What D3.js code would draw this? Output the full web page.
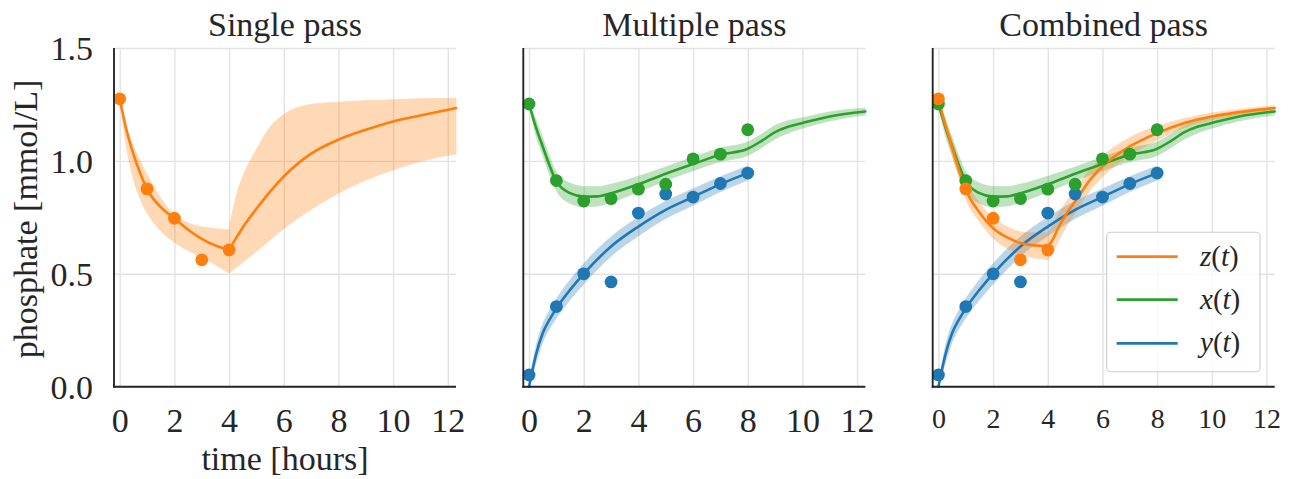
<!DOCTYPE html>
<html><head><meta charset="utf-8">
<script src="https://cdn.jsdelivr.net/npm/d3@7"></script>
<style>
html,body{margin:0;padding:0;background:#fff;}
svg{display:block;font-family:"Liberation Serif","Times New Roman",serif;}
</style></head><body>
<svg id="chart" width="1291" height="479"></svg>
<script>
// ---------- data ----------
const xTicks = [0, 2, 4, 6, 8, 10, 12];
const yTicks = [0, 0.5, 1.0, 1.5];
const panelTitles = ["Single pass", "Multiple pass", "Combined pass"];
const legendLabels = [["z","t"], ["x","t"], ["y","t"]];

// observations
const obsTime  = [0, 1, 2, 3, 4, 5, 6, 7, 8];
const zObsTime = [0, 1, 2, 3, 4];
const zObs = [1.275, 0.876, 0.746, 0.562, 0.606];
const xObs = [1.252, 0.913, 0.822, 0.833, 0.875, 0.897, 1.009, 1.030, 1.138];
const yObs = [0.052, 0.355, 0.500, 0.464, 0.769, 0.853, 0.840, 0.900, 0.946];

// single pass z(t): phase 1 (0-4 h) and phase 2 (4-12.3 h)
const singleT1  = [0, 0.25, 0.5, 0.75, 1, 1.5, 2, 2.5, 3, 3.5, 4];
const singleZ1  = [1.275, 1.135, 1.03, 0.945, 0.875, 0.795, 0.745, 0.695, 0.655, 0.625, 0.606];
const singleLo1 = [1.275, 1.06, 0.92, 0.83, 0.77, 0.69, 0.64, 0.603, 0.573, 0.54, 0.503];
const singleHi1 = [1.275, 1.15, 1.065, 1.0, 0.94, 0.835, 0.762, 0.725, 0.708, 0.70, 0.695];
const singleT2  = [4, 4.25, 4.5, 5, 5.5, 6, 7, 8, 9, 10, 11, 12.3];
const singleZ2  = [0.606, 0.657, 0.705, 0.788, 0.864, 0.931, 1.032, 1.094, 1.138, 1.175, 1.201, 1.234];
const singleLo2 = [0.503, 0.527, 0.55, 0.60, 0.65, 0.70, 0.785, 0.857, 0.915, 0.96, 0.998, 1.031];
const singleHi2 = [0.695, 0.84, 0.93, 1.05, 1.15, 1.205, 1.25, 1.26, 1.267, 1.271, 1.275, 1.278];

// multiple pass x(t)
const multiXT  = [0, 0.25, 0.5, 0.75, 1, 1.5, 2, 2.5, 3, 4, 5, 6, 7, 8, 8.5, 9, 9.5, 10, 11, 12.3];
const multiX   = [1.252, 1.15, 1.064, 0.98, 0.909, 0.857, 0.842, 0.843, 0.857, 0.897, 0.943, 0.986, 1.027, 1.054, 1.088, 1.127, 1.152, 1.168, 1.197, 1.219];
const multiXLo = [1.252, 1.115, 1.027, 0.94, 0.869, 0.812, 0.797, 0.80, 0.817, 0.862, 0.913, 0.956, 0.997, 1.024, 1.058, 1.097, 1.125, 1.145, 1.177, 1.204];
const multiXHi = [1.252, 1.185, 1.101, 1.02, 0.949, 0.902, 0.887, 0.886, 0.897, 0.932, 0.973, 1.016, 1.057, 1.084, 1.118, 1.157, 1.179, 1.191, 1.217, 1.234];

// multiple pass y(t)
const multiYT  = [0, 0.25, 0.5, 0.75, 1, 1.5, 2, 3, 4, 5, 6, 7, 8];
const multiY   = [0.0, 0.14, 0.237, 0.297, 0.347, 0.429, 0.50, 0.621, 0.709, 0.783, 0.84, 0.897, 0.946];
const multiYLo = [0.0, 0.105, 0.198, 0.257, 0.305, 0.385, 0.455, 0.578, 0.668, 0.745, 0.804, 0.864, 0.915];
const multiYHi = [0.0, 0.175, 0.276, 0.337, 0.389, 0.473, 0.545, 0.664, 0.75, 0.821, 0.876, 0.93, 0.977];

// combined pass z(t)
const combT1  = [0, 0.25, 0.5, 0.75, 1, 1.5, 2, 2.5, 3, 3.5, 4];
const combZ1  = [1.275, 1.16, 1.06, 0.96, 0.872, 0.772, 0.702, 0.662, 0.636, 0.626, 0.622];
const combLo1 = [1.275, 1.14, 1.025, 0.925, 0.832, 0.73, 0.657, 0.614, 0.586, 0.571, 0.562];
const combHi1 = [1.275, 1.18, 1.095, 0.995, 0.912, 0.814, 0.747, 0.71, 0.686, 0.681, 0.682];
const combT2  = [4, 4.15, 4.35, 4.7, 5, 5.5, 6, 7, 8, 9, 10, 11, 12.3];
const combZ2  = [0.622, 0.645, 0.695, 0.769, 0.82, 0.909, 0.975, 1.064, 1.123, 1.168, 1.197, 1.216, 1.234];
const combLo2 = [0.562, 0.585, 0.635, 0.714, 0.77, 0.862, 0.93, 1.024, 1.093, 1.148, 1.182, 1.204, 1.224];
const combHi2 = [0.682, 0.705, 0.755, 0.824, 0.87, 0.956, 1.02, 1.104, 1.153, 1.188, 1.212, 1.228, 1.244];

// ---------- styling / layout ----------
const C = {z: "#ff7f0e", x: "#2ca02c", y: "#1f77b4"};
const TEXT = "#262626";
const panelLeft = [114, 523.3, 932.7];
const PW = 342, YB = 386.7, YT = 48;
const xDomain = [-0.21, 12.3];

const zip = (t, v) => t.map((d, i) => [d, v[i]]);
const zip3 = (t, lo, hi) => t.map((d, i) => [d, lo[i], hi[i]]);

const panels = [
  {
    bands: [{c: C.z, segs: [zip3(singleT1, singleLo1, singleHi1), zip3(singleT2, singleLo2, singleHi2)]}],
    lines: [{c: C.z, segs: [zip(singleT1, singleZ1), zip(singleT2, singleZ2)]}],
    points: [{c: C.z, pts: zip(zObsTime, zObs)}],
    tickSize: 34, tickBase: 432
  },
  {
    bands: [{c: C.y, segs: [zip3(multiYT, multiYLo, multiYHi)]}, {c: C.x, segs: [zip3(multiXT, multiXLo, multiXHi)]}],
    lines: [{c: C.y, segs: [zip(multiYT, multiY)]}, {c: C.x, segs: [zip(multiXT, multiX)]}],
    points: [{c: C.y, pts: zip(obsTime, yObs)}, {c: C.x, pts: zip(obsTime, xObs)}],
    tickSize: 34, tickBase: 432
  },
  {
    bands: [{c: C.y, segs: [zip3(multiYT, multiYLo, multiYHi)]}, {c: C.x, segs: [zip3(multiXT, multiXLo, multiXHi)]},
            {c: C.z, segs: [zip3(combT1, combLo1, combHi1), zip3(combT2, combLo2, combHi2)]}],
    lines: [{c: C.y, segs: [zip(multiYT, multiY)]}, {c: C.x, segs: [zip(multiXT, multiX)]},
            {c: C.z, segs: [zip(combT1, combZ1), zip(combT2, combZ2)]}],
    points: [{c: C.y, pts: zip(obsTime, yObs)}, {c: C.x, pts: zip(obsTime, xObs)}, {c: C.z, pts: zip(zObsTime, zObs)}],
    tickSize: 28, tickBase: 428
  }
];

const svg = d3.select("#chart");
svg.append("rect").attr("width", 1291).attr("height", 479).attr("fill", "#fff");

panels.forEach((p, i) => {
  const L = panelLeft[i];
  const x = d3.scaleLinear().domain(xDomain).range([L, L + PW]);
  const y = d3.scaleLinear().domain([0, 1.5]).range([YB, YT]);
  const g = svg.append("g");

  // grid
  const gx = g.append("g").attr("transform", `translate(0,${YB})`)
    .call(d3.axisBottom(x).tickValues(xTicks).tickSize(-(YB - YT)).tickFormat(""));
  gx.select(".domain").remove();
  gx.selectAll("line").attr("stroke", "#e3e3e3").attr("stroke-width", 1.4);
  const gy = g.append("g").attr("transform", `translate(${L},0)`)
    .call(d3.axisLeft(y).tickValues(yTicks).tickSize(-PW).tickFormat(""));
  gy.select(".domain").remove();
  gy.selectAll("line").attr("stroke", "#e3e3e3").attr("stroke-width", 1.4);

  // bands
  const area = d3.area().x(d => x(d[0])).y0(d => y(d[1])).y1(d => y(d[2])).curve(d3.curveMonotoneX);
  p.bands.forEach(b => {
    const bg = g.append("g").attr("opacity", 0.3);
    b.segs.forEach(s => bg.append("path").attr("d", area(s)).attr("fill", b.c).attr("stroke", b.c).attr("stroke-width", 0.8));
  });

  // fitted lines
  const line = d3.line().x(d => x(d[0])).y(d => y(d[1])).curve(d3.curveMonotoneX);
  p.lines.forEach(l => {
    l.segs.forEach(s => g.append("path").attr("d", line(s)).attr("fill", "none")
      .attr("stroke", l.c).attr("stroke-width", 2.6).attr("stroke-linejoin", "round").attr("stroke-linecap", "round"));
  });

  // observations
  p.points.forEach(pt => {
    g.append("g").selectAll("circle").data(pt.pts).join("circle")
      .attr("cx", d => x(d[0])).attr("cy", d => y(d[1])).attr("r", 6.4).attr("fill", pt.c);
  });

  // spines
  g.append("line").attr("x1", L).attr("x2", L).attr("y1", YT).attr("y2", YB + 1)
    .attr("stroke", TEXT).attr("stroke-width", 1.9);
  g.append("line").attr("x1", L - 1).attr("x2", L + PW).attr("y1", YB).attr("y2", YB)
    .attr("stroke", TEXT).attr("stroke-width", 1.9);

  // x tick labels
  const tx = g.append("g").attr("transform", `translate(0,${YB})`)
    .call(d3.axisBottom(x).tickValues(xTicks).tickSize(0).tickFormat(d3.format("d")));
  tx.select(".domain").remove();
  tx.attr("font-family", null).attr("font-size", null);
  tx.selectAll("text").attr("y", p.tickBase - YB).attr("dy", 0)
    .attr("font-size", p.tickSize).attr("fill", TEXT);

  // y tick labels (first panel only)
  if (i === 0) {
    const ty = g.append("g").attr("transform", `translate(${L},0)`)
      .call(d3.axisLeft(y).tickValues(yTicks).tickSize(0).tickPadding(21).tickFormat(d3.format(".1f")));
    ty.select(".domain").remove();
    ty.attr("font-family", null).attr("font-size", null);
    ty.selectAll("text").attr("dy", "0.34em").attr("font-size", 34).attr("fill", TEXT);
  }

  // title
  g.append("text").attr("x", L + PW / 2).attr("y", 36).attr("text-anchor", "middle")
    .attr("font-size", 34).attr("fill", TEXT).text(panelTitles[i]);
});

// axis labels
svg.append("text").attr("x", 285).attr("y", 470).attr("text-anchor", "middle")
  .attr("font-size", 34).attr("fill", TEXT).text("time [hours]");
svg.append("text").attr("transform", "translate(37,219) rotate(-90)").attr("text-anchor", "middle")
  .attr("font-size", 34).attr("fill", TEXT).text("phosphate [mmol/L]");

// legend
const lg = svg.append("g");
lg.append("rect").attr("x", 1106.7).attr("y", 232.3).attr("width", 153.3).attr("height", 139.4)
  .attr("rx", 4).attr("fill", "#fff").attr("fill-opacity", 0.8).attr("stroke", "#cccccc").attr("stroke-width", 1.1);
const legColors = [C.z, C.x, C.y];
const legY = [256.7, 299.7, 343.3];
legendLabels.forEach((lab, k) => {
  lg.append("line").attr("x1", 1116.7).attr("x2", 1177.7).attr("y1", legY[k]).attr("y2", legY[k])
    .attr("stroke", legColors[k]).attr("stroke-width", 2.8);
  const t = lg.append("text").attr("x", 1200).attr("y", legY[k] + 9).attr("font-size", 29).attr("fill", TEXT);
  t.append("tspan").attr("font-style", "italic").text(lab[0]);
  t.append("tspan").text("(");
  t.append("tspan").attr("font-style", "italic").text(lab[1]);
  t.append("tspan").text(")");
});
</script>
</body></html>
